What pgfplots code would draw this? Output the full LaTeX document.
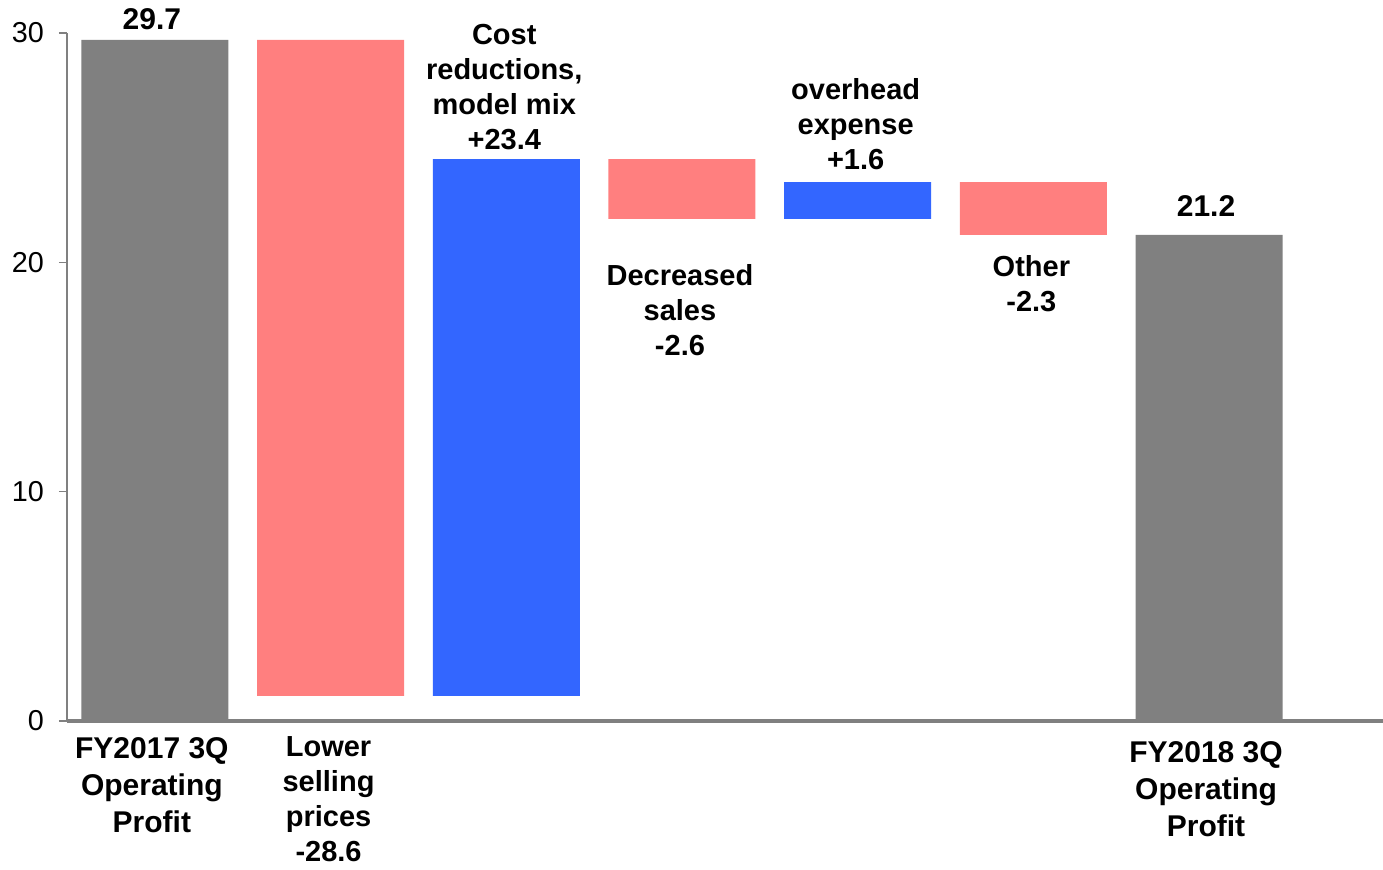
\documentclass[border=0pt]{standalone}
\usepackage{pgfplots}
\pgfplotsset{compat=1.18}
\usepackage{pgfplotstable}
\usepackage{fontspec}
\setmainfont{Liberation Sans}
\definecolor{barGray}{RGB}{128,128,128}
\definecolor{barPink}{RGB}{255,127,127}
\definecolor{barBlue}{RGB}{51,102,255}

\tikzset{
  lbl/.style={font=\bfseries\fontsize{14.5}{17.5}\selectfont, align=center, inner sep=0pt, xshift=-1pt},
  big/.style={font=\bfseries\fontsize{15}{18.5}\selectfont, align=center, inner sep=0pt, xshift=-1.5pt},
}

% Operating profit bridge: invisible base + visible step per category
\pgfplotstableread{
x base total down up
0 0    29.7 0    0
1 1.1  0    28.6 0
2 1.1  0    0    23.4
3 21.9 0    2.6  0
4 21.9 0    0    1.6
5 21.2 0    2.3  0
6 0    21.2 0    0
}\bridge

\begin{document}
\begin{tikzpicture}
\useasboundingbox (-33.5pt,-74.5pt) rectangle (658pt,360.5pt);
\begin{axis}[
  at={(0,0)}, anchor=south west,
  scale only axis, width=658pt, height=344pt,
  xmin=-0.5, xmax=6.99, ymin=0, ymax=30,
  ybar stacked, bar width=73.5pt,
  axis x line=bottom, axis y line=left,
  axis line style={-},
  x axis line style={draw=barGray, line width=2pt},
  y axis line style={draw=barGray, line width=0.8pt},
  xtick=\empty,
  ytick={0,10,20,30},
  ytick style={draw=barGray, line width=0.8pt},
  major tick length=4pt, tick align=outside,
  /pgf/number format/assume math mode=true,
  yticklabel style={font=\fontsize{14.4}{17}\selectfont, xshift=-4pt},
  clip=false,
]
\addplot[fill=none, draw=none] table[x=x, y=base]{\bridge};
\addplot[fill=barGray, draw=none] table[x=x, y=total]{\bridge};
\addplot[fill=barPink, draw=none] table[x=x, y=down]{\bridge};
\addplot[fill=barBlue, draw=none] table[x=x, y=up]{\bridge};

% value labels above the bars
\node[big, anchor=south] at (axis cs:0,30.13) {29.7};
\node[lbl, anchor=south] at (axis cs:2,24.88) {Cost\\reductions,\\model mix\\+23.4};
\node[lbl, anchor=south] at (axis cs:4,24.02) {overhead\\expense\\+1.6};
\node[big, anchor=south] at (axis cs:6,22.0) {21.2};

% labels below the floating bars
\node[lbl, anchor=north] at (axis cs:3,19.93) {Decreased\\sales\\-2.6};
\node[lbl, anchor=north] at (axis cs:5,20.30) {Other\\-2.3};

% category labels under the axis
\node[big, anchor=north] at (axis cs:0,-0.72) {FY2017 3Q\\Operating\\Profit};
\node[lbl, anchor=north] at (axis cs:1,-0.66) {Lower\\selling\\prices\\-28.6};
\node[big, anchor=north] at (axis cs:6,-0.90) {FY2018 3Q\\Operating\\Profit};
\end{axis}
\end{tikzpicture}
\end{document}
